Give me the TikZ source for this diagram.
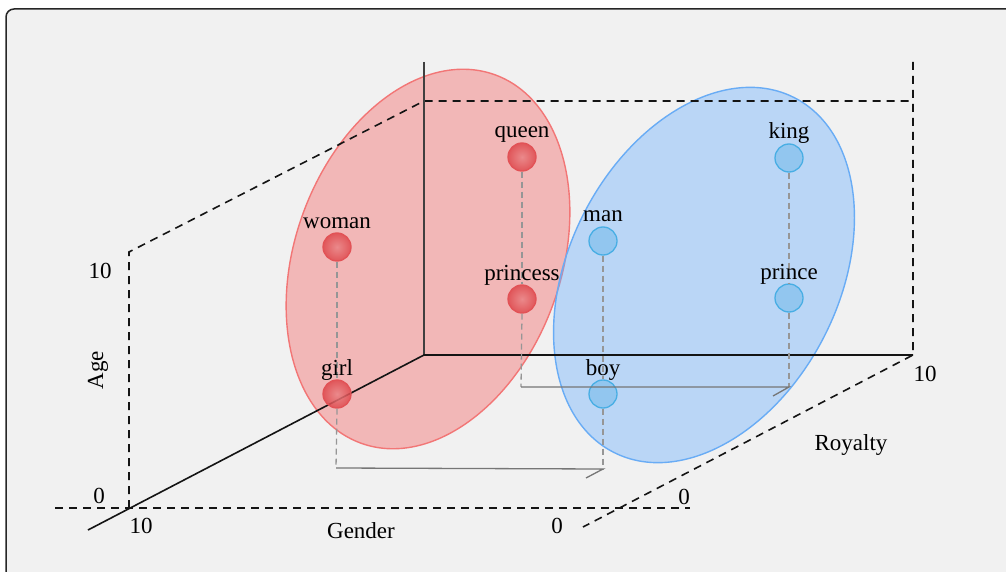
\documentclass[tikz,border=0pt]{standalone}
\usepackage{fontspec}
\setmainfont{Liberation Serif}
\usetikzlibrary{shapes.geometric, positioning}

\definecolor{panelbg}{RGB}{241,241,241}
\definecolor{femfill}{RGB}{245,105,105}
\definecolor{femline}{RGB}{242,118,118}
\definecolor{malfill}{RGB}{111,178,253}
\definecolor{malline}{RGB}{105,172,245}
\definecolor{redin}{RGB}{234,130,132}
\definecolor{redout}{RGB}{222,70,74}
\definecolor{redrim}{RGB}{226,82,86}
\definecolor{bluein}{RGB}{140,196,238}
\definecolor{bluerim}{RGB}{72,174,228}
\definecolor{projgray}{RGB}{150,150,150}
\definecolor{floorgray}{RGB}{118,118,118}

\begin{document}
\begin{tikzpicture}[
  x=1pt, y=-1pt,
  font=\fontsize{23}{27}\selectfont,
  axis/.style={line width=1.6pt, draw=black!92},
  guide/.style={line width=1.6pt, draw=black!92, dash pattern=on 8pt off 6pt},
  blob/.style={ellipse, inner sep=0pt, line width=1.4pt, fill opacity=0.42},
  femblob/.style={blob, fill=femfill, draw=femline},
  malblob/.style={blob, fill=malfill, draw=malline},
  dot/.style={circle, minimum size=28pt, inner sep=0pt, line width=1.3pt, fill opacity=0.85},
  femdot/.style={dot, draw=redrim, inner color=redin, outer color=redout},
  maldot/.style={dot, draw=bluerim, fill=bluein},
  lbl/.style={anchor=base, inner sep=0pt},
  projline/.style={line width=1.3pt, draw=projgray, dash pattern=on 6pt off 4pt},
  floorline/.style={line width=1.3pt, draw=floorgray}
]
\path[use as bounding box] (0,0) rectangle (1006,572);
\clip (0,0) rectangle (1006,572);
\draw[fill=panelbg, draw=black!85, line width=1.5pt, rounded corners=8pt] (6,9) rectangle (1020,590);

\node[femblob, rotate=70, minimum width=392pt, minimum height=266pt] (femset) at (428,259) {};
\node[malblob, rotate=63, minimum width=398pt, minimum height=270pt] (malset) at (704,275) {};

\coordinate (O) at (424,355);
\coordinate (agetop) at (424,62);
\coordinate (royend) at (913,355);
\coordinate (genend) at (88,530);
\coordinate (backleft) at (129,252);
\coordinate (backmid) at (424,101);
\coordinate (backright) at (913,101);
\coordinate (righttop) at (913,62);
\coordinate (leftfoot) at (129,508);
\coordinate (floorleft) at (55,508);
\coordinate (floorright) at (690,508);
\coordinate (royzero) at (583,527);

\draw[guide] (leftfoot) -- (backleft) -- (backmid) -- (backright);
\draw[guide] (righttop) -- (royend) -- (royzero);
\draw[guide] (floorleft) -- (floorright);
\draw[axis, draw=black!75] (agetop) -- (O);
\draw[axis] (genend) -- (O) -- (royend);

\node[femdot] (woman) at (337,247) {};
\node[femdot] (girl) at (337,394) {};
\node[femdot] (queen) at (522,157) {};
\node[femdot] (princess) at (522,299) {};
\node[maldot] (man) at (603,241) {};
\node[maldot] (boy) at (603,394) {};
\node[maldot] (king) at (789,158) {};
\node[maldot] (prince) at (789,298) {};

\coordinate (girlfoot) at (336,468);
\coordinate (boyfoot) at (603,469);
\coordinate (boytick) at (586,478);
\coordinate (princessfoot) at (521,387);
\coordinate (princefoot) at (789,387);
\coordinate (princetick) at (773,396);

\draw[projline] (woman.south) -- (girl.north);
\draw[projline] (girl.south) -- (girlfoot);
\draw[projline] (queen.south) -- (princess.north);
\draw[projline] (princess.south) -- (princessfoot);
\draw[projline] (man.south) -- (boy.north);
\draw[projline] (boy.south) -- (boyfoot);
\draw[projline] (king.south) -- (prince.north);
\draw[projline] (prince.south) -- (princefoot);
\draw[floorline] (girlfoot) -- (boyfoot) -- (boytick);
\draw[floorline] (princessfoot) -- (princefoot) -- (princetick);

\node[above=19pt of woman.center, lbl] (womanlbl) {woman};
\node[above=19pt of girl.center, lbl] (girllbl) {girl};
\node[above=19pt of queen.center, lbl] (queenlbl) {queen};
\node[above=19pt of princess.center, lbl] (princesslbl) {princess};
\node[above=19pt of man.center, lbl] (manlbl) {man};
\node[above=19pt of boy.center, lbl] (boylbl) {boy};
\node[above=19pt of king.center, lbl] (kinglbl) {king};
\node[above=19pt of prince.center, lbl] (princelbl) {prince};

\node[lbl] (agehi) at (100,278) {10};
\node[lbl] (agelo) at (99,503) {0};
\node[rotate=90, inner sep=0pt] (agename) at (98,370) {Age};
\node[lbl] (genhi) at (141,533) {10};
\node[lbl] (genname) at (361,538) {Gender};
\node[lbl] (genlo) at (557,533) {0};
\node[lbl] (roylo) at (684,504) {0};
\node[lbl] (royname) at (851,450) {Royalty};
\node[lbl] (royhi) at (925,381) {10};
\end{tikzpicture}
\end{document}
